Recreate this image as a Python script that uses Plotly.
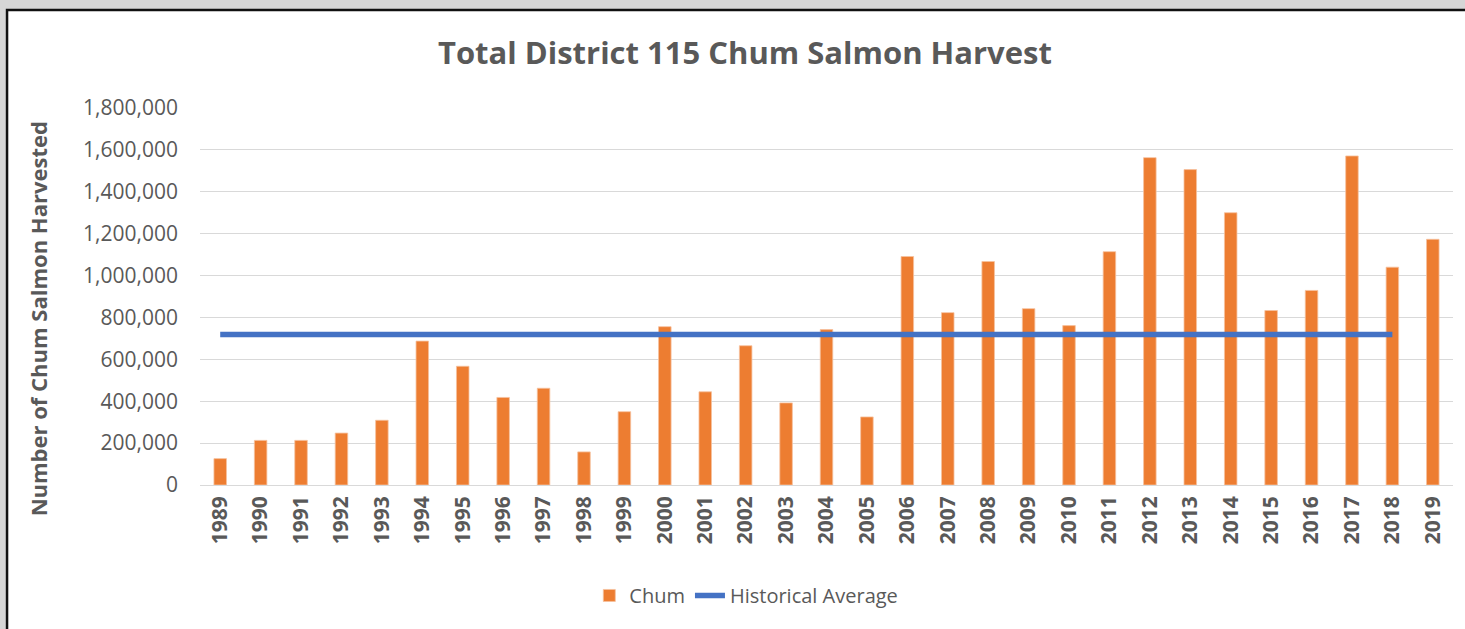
import plotly.graph_objects as go

years = [str(y) for y in range(1989, 2020)]
chum = [126000, 213000, 213000, 248000, 309000, 687000, 567000, 418000, 462000, 158000,
        350000, 756000, 445000, 665000, 392000, 742000, 325000, 1091000, 823000, 1067000,
        842000, 761000, 1114000, 1563000, 1506000, 1300000, 833000, 929000, 1571000, 1040000,
        1173000]
avg_years = [str(y) for y in range(1989, 2019)]
avg_values = [719000] * 30

y_ticks = [0, 200000, 400000, 600000, 800000, 1000000, 1200000, 1400000, 1600000, 1800000]

FONT = "Open Sans"
GRAY = "#595959"

fig = go.Figure()
fig.add_trace(go.Bar(
    x=years, y=chum, name="Chum",
    marker=dict(color="#ED7D31", line=dict(color="#F6C29E", width=0.8)),
))
fig.add_trace(go.Scatter(
    x=avg_years, y=avg_values, name="Historical Average", mode="lines",
    line=dict(color="#4472C4", width=5.5),
))

# frame: gray surround + white chart area with black border
fig.add_shape(type="rect", xref="paper", yref="paper",
              x0=-0.154, x1=1.02, y0=-0.45, y1=1.2602,
              fillcolor="white", line=dict(color="#111111", width=2.5), layer="below")

# y-axis title (placed as in the reference, slightly below plot centre)
fig.add_annotation(text="<b>Number of Chum Salmon Harvested</b>", textangle=-90,
                   xref="paper", yref="paper", x=-0.1293, y=0.442,
                   xanchor="center", yanchor="middle", showarrow=False,
                   font=dict(family=FONT, size=22, color=GRAY))

fig.update_layout(
    width=1465, height=629,
    autosize=False,
    margin=dict(l=200, r=12, t=108, b=144.4, autoexpand=False),
    paper_bgcolor="#d6d6d6",
    plot_bgcolor="white",
    bargap=0.69,
    title=dict(text="<b>Total District 115 Chum Salmon Harvest</b>",
               x=0.5085, xref="container", xanchor="center",
               y=1 - 53 / 629, yref="container", yanchor="middle",
               font=dict(family=FONT, size=31, color=GRAY)),
    showlegend=True,
    legend=dict(orientation="h", x=0.436, xref="paper", xanchor="center",
                y=-0.293, yref="paper", yanchor="middle",
                font=dict(family=FONT, size=20, color=GRAY),
                bgcolor="rgba(0,0,0,0)", traceorder="normal"),
    xaxis=dict(type="category", tickangle=-90, automargin=False,
               tickfont=dict(family=FONT, size=21, color=GRAY, weight="bold"),
               showgrid=False, showline=False, ticks="", ticklabelstandoff=6),
    yaxis=dict(range=[0, 1800000], tickvals=y_ticks, automargin=False,
               tickformat=",d",
               tickfont=dict(family=FONT, size=21, color=GRAY),
               gridcolor="#d9d9d9", gridwidth=1.3,
               zeroline=True, zerolinecolor="#d9d9d9", zerolinewidth=1.3,
               showline=False, ticks="", ticklabelstandoff=21),
)

fig.write_html("out.html", config={"displayModeBar": False},
               post_script="document.body.style.margin='0';")
